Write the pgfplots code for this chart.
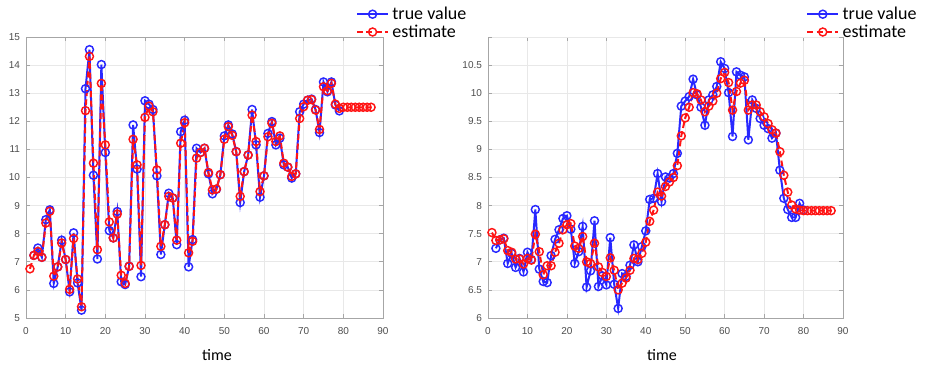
\documentclass[border=0pt]{standalone}
\usepackage{pgfplots}
\pgfplotsset{compat=1.18}
\usepackage{pgfplotstable}
\usepackage{fontspec}
\setmainfont{Carlito}
\newfontfamily\tickfont{Liberation Sans}
\definecolor{tcol}{RGB}{77,77,77}
\definecolor{mblue}{RGB}{40,40,255}
\definecolor{mred}{RGB}{255,20,20}

\pgfplotstableread{
t v
2 7.23
3 7.49
4 7.16
5 8.50
6 8.85
7 6.23
8 6.82
9 7.77
10 7.08
11 5.93
12 8.03
13 6.25
14 5.28
15 13.16
16 14.55
17 10.08
18 7.10
19 14.02
20 10.89
21 8.11
22 7.85
23 8.79
24 6.29
25 6.19
26 6.84
27 11.87
28 10.30
29 6.47
30 12.73
31 12.61
32 12.42
33 10.06
34 7.26
35 8.32
36 9.44
37 9.27
38 7.61
39 11.63
40 12.04
41 6.82
42 7.79
43 11.04
44 10.89
45 11.04
46 10.13
47 9.42
48 9.58
49 10.10
50 11.48
51 11.87
52 11.55
53 10.92
54 9.11
55 10.21
56 10.80
57 12.42
58 11.16
59 9.30
60 10.06
61 11.57
62 11.99
63 11.16
64 11.40
65 10.45
66 10.37
67 9.98
68 10.13
69 12.34
70 12.61
71 12.75
72 12.79
73 12.42
74 11.60
75 13.40
76 13.05
77 13.40
78 12.58
79 12.37
}\lefttrue

\pgfplotstableread{
t v
1 6.75
2 7.23
3 7.37
4 7.16
5 8.38
6 8.80
7 6.49
8 6.82
9 7.67
10 7.08
11 6.02
12 7.83
13 6.39
14 5.40
15 12.38
16 14.31
17 10.51
18 7.43
19 13.35
20 11.16
21 8.42
22 7.85
23 8.70
24 6.52
25 6.23
26 6.84
27 11.36
28 10.45
29 6.87
30 12.14
31 12.54
32 12.34
33 10.27
34 7.55
35 8.32
36 9.33
37 9.27
38 7.77
39 11.22
40 11.95
41 7.32
42 7.73
43 10.69
44 10.89
45 11.04
46 10.18
47 9.56
48 9.59
49 10.10
50 11.36
51 11.81
52 11.50
53 10.92
54 9.33
55 10.21
56 10.80
57 12.22
58 11.28
59 9.50
60 10.06
61 11.45
62 11.93
63 11.28
64 11.48
65 10.51
66 10.37
67 10.04
68 10.13
69 12.10
70 12.52
71 12.75
72 12.77
73 12.40
74 11.71
75 13.23
76 13.09
77 13.35
78 12.61
79 12.46
80 12.50
81 12.50
82 12.50
83 12.50
84 12.50
85 12.50
86 12.50
87 12.50
}\leftest

\pgfplotstableread{
t v
2 7.24
3 7.39
4 7.42
5 6.97
6 7.15
7 6.90
8 7.06
9 6.82
10 7.17
11 7.04
12 7.93
13 6.87
14 6.65
15 6.63
16 7.11
17 7.40
18 7.57
19 7.77
20 7.82
21 7.58
22 6.97
23 7.18
24 7.63
25 6.55
26 6.84
27 7.73
28 6.56
29 6.75
30 6.59
31 7.43
32 6.60
33 6.17
34 6.79
35 6.74
36 6.94
37 7.30
38 7.00
39 7.27
40 7.55
41 8.11
42 8.13
43 8.57
44 8.07
45 8.51
46 8.49
47 8.57
48 8.93
49 9.77
50 9.86
51 9.94
52 10.25
53 9.97
54 9.75
55 9.43
56 9.88
57 9.97
58 10.12
59 10.56
60 10.44
61 10.01
62 9.23
63 10.38
64 10.32
65 10.29
66 9.17
67 9.88
68 9.73
69 9.55
70 9.43
71 9.37
72 9.20
73 9.29
74 8.63
75 8.13
76 7.93
77 7.79
78 7.79
79 8.04
80 7.92
}\righttrue

\pgfplotstableread{
t v
1 7.52
2 7.38
3 7.39
4 7.41
5 7.20
6 7.17
7 7.05
8 7.05
9 6.96
10 7.06
11 7.03
12 7.49
13 7.18
14 6.77
15 6.93
16 6.93
17 7.17
18 7.33
19 7.57
20 7.66
21 7.68
22 7.28
23 7.24
24 7.45
25 7.00
26 6.97
27 7.33
28 6.91
29 6.81
30 6.74
31 7.07
32 6.85
33 6.50
34 6.62
35 6.71
36 6.85
37 7.06
38 7.04
39 7.15
40 7.35
41 7.72
42 7.92
43 8.24
44 8.17
45 8.34
46 8.42
47 8.50
48 8.71
49 9.24
50 9.56
51 9.75
52 10.01
53 9.99
54 9.88
55 9.67
56 9.77
57 9.86
58 10.00
59 10.26
60 10.37
61 10.19
62 9.70
63 10.03
64 10.18
65 10.23
66 9.70
67 9.79
68 9.79
69 9.67
70 9.58
71 9.46
72 9.35
73 9.29
74 8.96
75 8.54
76 8.24
77 8.01
78 7.94
79 7.92
80 7.91
81 7.91
82 7.91
83 7.91
84 7.91
85 7.91
86 7.91
87 7.91
}\rightest

\pgfplotsset{
  mstyle/.style={
    scale only axis,
    height=210.75pt,
    xmin=0, xmax=90,
    xtick={0,10,...,90},
    grid=major,
    major grid style={gray!18, line width=0.5pt},
    axis line style={gray!70, line width=0.6pt},
    tick style={gray!70, line width=0.5pt},
    tick align=inside,
    major tick length=3pt,
    /pgf/number format/assume math mode=true,
    /pgf/number format/fixed,
    ticklabel style={font=\tickfont\fontsize{7.5}{8}\selectfont, text=tcol},
    yticklabel style={xshift=-1pt},
    xticklabel style={yshift=-3.5pt},
    xlabel={time},
    xlabel style={font=\fontsize{12}{14}\selectfont},
    legend style={draw=none, fill=none, font=\fontsize{13.5}{15}\selectfont, row sep=1.5pt, inner sep=1pt,
      nodes={inner xsep=2.5pt, inner ysep=0.5pt}},
    legend cell align=left,
    legend image code/.code={
      \draw[#1] (0cm,0cm) -- (0.82cm,0cm);
      \draw[#1, solid, mark repeat=1] plot coordinates {(0.41cm,0cm)};
    },
  },
  truestyle/.style={mblue, line width=1.5pt, mark=o, mark size=3pt, mark options={line width=1.1pt, solid}},
  eststyle/.style={mred, line width=1.5pt, dash pattern=on 4.5pt off 2.5pt, mark=o, mark size=3pt, mark options={line width=1.1pt, solid}},
}

\begin{document}
\begin{tikzpicture}
\useasboundingbox (0,0) rectangle (694.5pt,276.75pt);
\begin{axis}[mstyle,
  at={(19.5pt,38.25pt)}, anchor=south west,
  width=267.75pt,
  ymin=5, ymax=15, ytick={5,6,...,15},
  xlabel style={at={(axis description cs:0.535,-0.132)}, anchor=center},
  legend style={at={(axis description cs:0.92,1.115)}, anchor=north west},
]
\addplot[truestyle] table[x=t,y=v] {\lefttrue};
\addlegendentry{true value}
\addplot[eststyle] table[x=t,y=v] {\leftest};
\addlegendentry{estimate}
\end{axis}
\begin{axis}[mstyle,
  at={(366pt,38.25pt)}, anchor=south west,
  width=266.25pt,
  ymin=6, ymax=11, ytick={6,6.5,...,10.5}, extra y ticks={11}, extra y tick labels={},
  xlabel style={at={(axis description cs:0.49,-0.132)}, anchor=center},
  legend style={at={(axis description cs:0.892,1.115)}, anchor=north west},
]
\addplot[truestyle] table[x=t,y=v] {\righttrue};
\addlegendentry{true value}
\addplot[eststyle] table[x=t,y=v] {\rightest};
\addlegendentry{estimate}
\end{axis}
\end{tikzpicture}
\end{document}
